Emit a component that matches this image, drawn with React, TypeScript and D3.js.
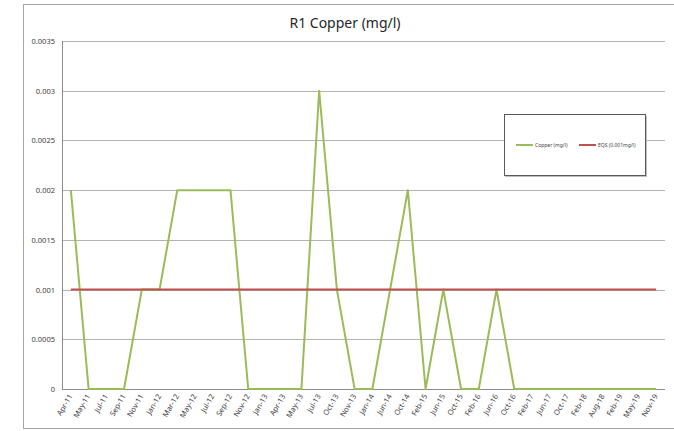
import React, { useEffect, useRef } from 'react';
import * as d3 from 'd3';

const categories = [
  'Apr-11', 'May-11', 'Jul-11', 'Sep-11', 'Nov-11', 'Jan-12', 'Mar-12', 'May-12', 'Jul-12', 'Sep-12',
  'Nov-12', 'Jan-13', 'Apr-13', 'May-13', 'Jul-13', 'Oct-13', 'Nov-13', 'Jan-14', 'Jun-14', 'Oct-14',
  'Feb-15', 'Jun-15', 'Oct-15', 'Feb-16', 'Jun-16', 'Oct-16', 'Feb-17', 'Jun-17', 'Oct-17', 'Feb-18',
  'Aug-18', 'Feb-19', 'May-19', 'Nov-19',
];
const copper = [
  0.002, 0, 0, 0, 0.001, 0.001, 0.002, 0.002, 0.002, 0.002,
  0, 0, 0, 0, 0.003, 0.001, 0, 0, 0.001, 0.002,
  0, 0.001, 0, 0, 0.001, 0, 0, 0, 0, 0,
  0, 0, 0, 0,
];
const eqs = categories.map(() => 0.001);
const yTicks = [0, 0.0005, 0.001, 0.0015, 0.002, 0.0025, 0.003, 0.0035];
const seriesNames = ['Copper (mg/l)', 'EQS (0.001mg/l)'];

const W = 674;
const H = 431;
const font = "'Noto Sans', 'Open Sans', sans-serif";

export default function App() {
  const ref = useRef<SVGSVGElement>(null);

  useEffect(() => {
    const svg = d3.select(ref.current);
    svg.selectAll('*').remove();

    const left = 62, right = 665, top = 41, bottom = 389;

    // outer frame
    svg.append('rect')
      .attr('x', 23.5).attr('y', 4.5)
      .attr('width', 680).attr('height', 424)
      .attr('fill', '#fff').attr('stroke', '#a6a6a6').attr('stroke-width', 1);

    const x = d3.scaleBand<string>().domain(categories).range([left, right]).padding(0);
    const y = d3.scaleLinear().domain([0, 0.0035]).range([bottom, top]);
    const cx = (c: string) => (x(c) as number) + x.bandwidth() / 2;

    // gridlines
    svg.append('g').selectAll('line')
      .data(yTicks.filter(t => t > 0))
      .enter().append('line')
      .attr('x1', left).attr('x2', right)
      .attr('y1', d => Math.round(y(d)) + 0.5).attr('y2', d => Math.round(y(d)) + 0.5)
      .attr('stroke', '#b3b3b3').attr('stroke-width', 1);

    // axes lines
    svg.append('line')
      .attr('x1', left + 0.5).attr('x2', left + 0.5).attr('y1', top).attr('y2', bottom)
      .attr('stroke', '#8c8c8c');
    svg.append('line')
      .attr('x1', left).attr('x2', right).attr('y1', bottom + 0.5).attr('y2', bottom + 0.5)
      .attr('stroke', '#8c8c8c');

    // y labels
    svg.append('g').selectAll('text')
      .data(yTicks)
      .enter().append('text')
      .attr('x', 55).attr('y', d => y(d) + 3)
      .attr('text-anchor', 'end')
      .attr('font-family', font).attr('font-size', 7.5).attr('fill', '#404040')
      .text(d => String(d));

    // x labels
    svg.append('g').selectAll('text')
      .data(categories)
      .enter().append('text')
      .attr('transform', d => `translate(${cx(d) + 2},${bottom + 7}) rotate(-60)`)
      .attr('text-anchor', 'end')
      .attr('font-family', font).attr('font-size', 7.5).attr('fill', '#404040')
      .text(d => d);

    const line = d3.line<number>()
      .x((_, i) => cx(categories[i]))
      .y(d => y(d));

    svg.append('path').datum(copper)
      .attr('d', line).attr('fill', 'none')
      .attr('stroke', '#9bbb59').attr('stroke-width', 2).attr('stroke-linejoin', 'round');
    svg.append('path').datum(eqs)
      .attr('d', line).attr('fill', 'none')
      .attr('stroke', '#c0504d').attr('stroke-width', 2);

    // title
    svg.append('text')
      .attr('x', 345).attr('y', 28)
      .attr('text-anchor', 'middle')
      .attr('font-family', font).attr('font-size', 14).attr('fill', '#262626')
      .text('R1 Copper (mg/l)');

    // legend
    const lg = svg.append('g');
    lg.append('rect')
      .attr('x', 505).attr('y', 116).attr('width', 142).attr('height', 61)
      .attr('fill', '#bfbfbf');
    lg.append('rect')
      .attr('x', 504.5).attr('y', 114.5).attr('width', 141).attr('height', 61)
      .attr('fill', '#fff').attr('stroke', '#595959');
    const colors = ['#9bbb59', '#c0504d'];
    const lx = [516, 579];
    seriesNames.forEach((name, i) => {
      lg.append('line')
        .attr('x1', lx[i]).attr('x2', lx[i] + 17).attr('y1', 145).attr('y2', 145)
        .attr('stroke', colors[i]).attr('stroke-width', 2);
      lg.append('text')
        .attr('x', lx[i] + 19).attr('y', 147)
        .attr('font-family', font).attr('font-size', 5).attr('fill', '#404040')
        .text(name);
    });
  }, []);

  return (
    <svg ref={ref} width={W} height={H}
      style={{ position: 'absolute', left: 0, top: 0, background: '#fff' }} />
  );
}
